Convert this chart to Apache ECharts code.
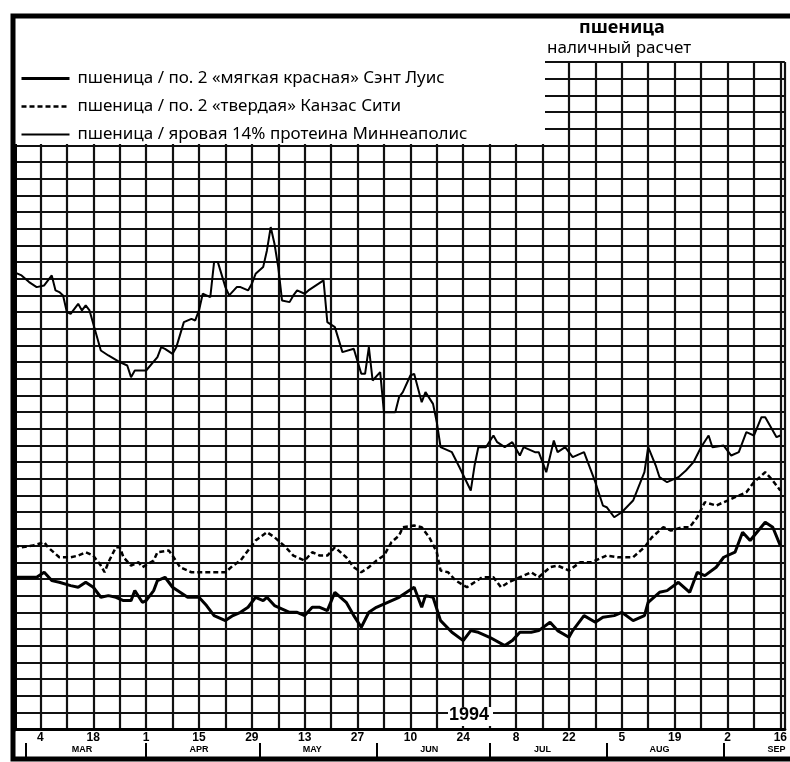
<!DOCTYPE html>
<html>
<head>
<meta charset="utf-8">
<script src="https://cdn.jsdelivr.net/npm/echarts@6/dist/echarts.min.js"></script>
<style>
html,body{margin:0;padding:0;background:#fff;}
#chart{width:790px;height:762px;}
</style>
</head>
<body>
<div id="chart"></div>
<script>
// ---- DATA (1994, cash wheat prices, $/bu; dates as month-day) ----
const seriesNames = [
  'пшеница / по. 2 «мягкая красная» Сэнт Луис',
  'пшеница / по. 2 «твердая» Канзас Сити',
  'пшеница / яровая 14% протеина Миннеаполис'
];

const stLouisData = [
  ['2-25',3.31],['2-28',3.31],['3-3',3.31],['3-5',3.34],['3-7',3.29],['3-9',3.28],['3-12',3.26],['3-14',3.25],
  ['3-16',3.28],['3-18',3.25],['3-20',3.19],['3-22',3.20],['3-24',3.19],['3-26',3.17],['3-28',3.17],['3-29',3.23],
  ['3-31',3.16],['4-1',3.17],['4-3',3.23],['4-4',3.29],['4-6',3.31],['4-8',3.25],['4-10',3.22],['4-12',3.19],
  ['4-15',3.19],['4-17',3.14],['4-19',3.08],['4-22',3.05],['4-24',3.08],['4-26',3.10],['4-28',3.13],['4-30',3.19],
  ['5-2',3.17],['5-3',3.19],['5-5',3.14],['5-9',3.10],['5-11',3.10],['5-13',3.08],['5-15',3.13],['5-17',3.13],
  ['5-19',3.11],['5-21',3.22],['5-24',3.16],['5-26',3.08],['5-28',3.01],['5-30',3.10],['6-1',3.13],['6-4',3.16],
  ['6-7',3.19],['6-9',3.22],['6-11',3.25],['6-13',3.13],['6-14',3.20],['6-16',3.19],['6-18',3.05],['6-21',2.98],
  ['6-24',2.93],['6-26',2.99],['6-28',2.98],['7-1',2.95],['7-5',2.90],['7-7',2.93],['7-9',2.98],['7-12',2.98],
  ['7-14',2.99],['7-17',3.04],['7-19',2.99],['7-22',2.95],['7-23',2.99],['7-26',3.08],['7-29',3.04],['7-31',3.07],
  ['8-3',3.08],['8-5',3.10],['8-8',3.05],['8-11',3.08],['8-12',3.16],['8-15',3.22],['8-17',3.23],['8-20',3.28],
  ['8-23',3.22],['8-25',3.34],['8-27',3.32],['8-30',3.37],['9-1',3.43],['9-4',3.46],['9-6',3.58],['9-8',3.53],
  ['9-12',3.64],['9-14',3.61],['9-16',3.50]
];

const kansasCityData = [
  ['2-25',3.50],['2-27',3.49],['3-2',3.50],['3-5',3.52],['3-6',3.49],['3-9',3.43],['3-12',3.43],['3-14',3.44],
  ['3-16',3.46],['3-18',3.44],['3-20',3.38],['3-21',3.34],['3-22',3.40],['3-24',3.49],['3-25',3.49],['3-26',3.43],
  ['3-28',3.38],['3-30',3.40],['3-31',3.37],['4-3',3.41],['4-4',3.46],['4-7',3.47],['4-8',3.44],['4-10',3.37],
  ['4-13',3.34],['4-16',3.34],['4-19',3.34],['4-22',3.34],['4-24',3.38],['4-26',3.41],['4-28',3.47],['4-30',3.53],
  ['5-3',3.58],['5-5',3.55],['5-8',3.49],['5-10',3.44],['5-13',3.41],['5-15',3.46],['5-17',3.44],['5-19',3.44],
  ['5-21',3.49],['5-24',3.43],['5-26',3.37],['5-28',3.34],['5-30',3.37],['6-1',3.41],['6-3',3.44],['6-5',3.52],
  ['6-7',3.56],['6-8',3.61],['6-11',3.62],['6-13',3.61],['6-15',3.55],['6-17',3.46],['6-18',3.35],['6-20',3.34],
  ['6-22',3.29],['6-25',3.25],['6-27',3.28],['6-29',3.31],['7-2',3.31],['7-4',3.25],['7-6',3.28],['7-9',3.31],
  ['7-12',3.34],['7-14',3.31],['7-17',3.37],['7-19',3.38],['7-22',3.35],['7-25',3.40],['7-28',3.40],['8-1',3.44],
  ['8-4',3.43],['8-8',3.43],['8-11',3.49],['8-13',3.55],['8-16',3.61],['8-18',3.59],['8-21',3.61],['8-23',3.61],
  ['8-25',3.67],['8-27',3.76],['8-30',3.74],['9-1',3.76],['9-4',3.79],['9-7',3.82],['9-9',3.88],['9-12',3.94],
  ['9-14',3.89],['9-16',3.83]
];

const minneapolisData = [
  ['2-25',5.14],['2-27',5.12],['3-1',5.08],['3-3',5.05],['3-5',5.06],['3-7',5.12],['3-8',5.03],['3-9',5.02],
  ['3-10',5.00],['3-11',4.90],['3-12',4.89],['3-14',4.95],['3-15',4.91],['3-16',4.94],['3-17',4.91],['3-18',4.83],
  ['3-20',4.67],['3-22',4.64],['3-25',4.60],['3-27',4.58],['3-28',4.51],['3-29',4.55],['4-1',4.55],['4-4',4.63],
  ['4-5',4.69],['4-6',4.68],['4-8',4.65],['4-9',4.69],['4-11',4.84],['4-13',4.86],['4-14',4.85],['4-15',4.91],
  ['4-16',5.01],['4-18',4.99],['4-19',5.20],['4-20',5.20],['4-22',5.05],['4-23',5.00],['4-25',5.05],['4-26',5.05],
  ['4-28',5.03],['4-29',5.07],['4-30',5.13],['5-2',5.17],['5-3',5.27],['5-4',5.41],['5-5',5.31],['5-6',5.17],
  ['5-7',4.97],['5-9',4.96],['5-10',5.00],['5-11',5.03],['5-13',5.01],['5-14',5.03],['5-18',5.09],['5-19',4.84],
  ['5-21',4.81],['5-23',4.66],['5-26',4.68],['5-28',4.53],['5-29',4.53],['5-30',4.69],['5-31',4.49],['6-2',4.54],
  ['6-3',4.30],['6-6',4.30],['6-7',4.39],['6-8',4.42],['6-10',4.52],['6-11',4.53],['6-13',4.36],['6-14',4.42],
  ['6-16',4.35],['6-17',4.24],['6-18',4.09],['6-21',4.06],['6-23',3.97],['6-26',3.83],['6-27',3.98],['6-28',4.09],
  ['6-30',4.09],['7-2',4.16],['7-3',4.12],['7-5',4.09],['7-7',4.12],['7-9',4.04],['7-10',4.09],['7-13',4.06],
  ['7-14',4.06],['7-16',3.94],['7-18',4.13],['7-19',4.06],['7-21',4.09],['7-23',4.03],['7-26',4.06],['7-29',3.88],
  ['7-31',3.74],['8-1',3.73],['8-3',3.67],['8-5',3.70],['8-8',3.77],['8-11',3.94],['8-12',4.09],['8-14',3.98],
  ['8-15',3.91],['8-17',3.88],['8-20',3.91],['8-22',3.95],['8-24',4.00],['8-26',4.09],['8-28',4.16],['8-29',4.09],
  ['9-1',4.10],['9-3',4.04],['9-5',4.06],['9-7',4.18],['9-9',4.16],['9-11',4.27],['9-12',4.27],['9-15',4.15],
  ['9-16',4.16]
];

// axis text
const dayTickDates = ['3-4','3-18','4-1','4-15','4-29','5-13','5-27','6-10','6-24','7-8','7-22','8-5','8-19','9-2','9-16'];
const monthNames = ['MAR','APR','MAY','JUN','JUL','AUG','SEP'];
const monthMidDates = ['3-15','4-15','5-15','6-15','7-15','8-15','9-15'];
const monthStartDates = ['2-28','4-1','5-1','6-1','7-1','8-1','9-1'];
const yearLabel = '1994';
const titleMain = 'пшеница';
const titleSub = 'наличный расчет';

// ---- helpers ----
const START = Date.UTC(1994, 1, 25);
function dayOf(s) {
  const p = s.split('-').map(Number);
  return Math.round((Date.UTC(1994, p[0] - 1, p[1]) - START) / 86400000);
}
function toXY(arr) { return arr.map(r => [dayOf(r[0]), r[1]]); }
const monthMidDays = monthMidDates.map(dayOf);

const chart = echarts.init(document.getElementById('chart'), null, {renderer: 'canvas'});
const FONT = 'Noto Sans';
const lineStyles = [
  {color: '#000', width: 3, type: 'solid'},
  {color: '#000', width: 2.5, type: [5, 3]},
  {color: '#000', width: 2, type: 'solid'}
];
const dataSets = [stLouisData, kansasCityData, minneapolisData];

const option = {
  animation: false,
  backgroundColor: '#fff',
  grid: {left: 14, right: 0, top: 62, bottom: 33, containLabel: false},
  xAxis: [
    {
      type: 'value', min: 0, max: 204.2, interval: 7,
      axisLine: {show: true, lineStyle: {color: '#000', width: 3}},
      axisTick: {show: false},
      splitLine: {show: true, lineStyle: {color: '#111', width: 2.2}},
      axisLabel: {
        show: true, customValues: dayTickDates.map(dayOf),
        formatter: v => String(new Date(START + v * 86400000).getUTCDate()),
        color: '#000', fontSize: 12, fontWeight: 'bold', fontFamily: 'Liberation Sans', margin: 3
      }
    },
    {
      type: 'value', min: 0, max: 204.2, position: 'bottom', offset: 14,
      axisLine: {show: false},
      splitLine: {show: false},
      axisTick: {show: true, customValues: monthStartDates.map(dayOf), length: 16, lineStyle: {color: '#000', width: 2}},
      axisLabel: {
        show: true, customValues: monthMidDays,
        formatter: v => monthNames[monthMidDays.indexOf(Math.round(v))] || '',
        color: '#000', fontSize: 9, fontWeight: 'bold', fontFamily: 'Liberation Sans', margin: 2
      }
    }
  ],
  yAxis: {
    type: 'value', min: 2.4, max: 6.4, interval: 0.1,
    axisLine: {show: true, lineStyle: {color: '#000', width: 5}},
    axisTick: {show: false},
    axisLabel: {show: false},
    splitLine: {show: true, lineStyle: {color: '#111', width: 2.2}}
  },
  legend: {
    orient: 'vertical', left: 15, top: 65, z: 20,
    itemWidth: 48, itemHeight: 14, itemGap: 11,
    itemStyle: {opacity: 0},
    textStyle: {color: '#000', fontSize: 17, fontFamily: FONT, lineHeight: 17, padding: [0, 0, 0, 3]},
    data: seriesNames.map((n, i) => ({name: n, lineStyle: lineStyles[i]}))
  },
  series: seriesNames.map((n, i) => ({
    name: n, type: 'line', symbol: 'none', data: toXY(dataSets[i]),
    lineStyle: lineStyles[i], itemStyle: {color: '#000'}, z: 5
  })),
  graphic: [
    {type: 'rect', z: 8, shape: {x: 15, y: 16, width: 530, height: 128}, style: {fill: '#fff'}},
    {type: 'rect', z: 8, shape: {x: 15, y: 16, width: 780, height: 45}, style: {fill: '#fff'}},
    {type: 'text', z: 20, left: 579, top: 19, style: {text: titleMain, fontSize: 18, fontWeight: 'bold', fontFamily: FONT, fill: '#000'}},
    {type: 'text', z: 20, left: 547, top: 40, style: {text: titleSub, fontSize: 17, fontFamily: FONT, fill: '#000'}},
    {type: 'rect', z: 8, shape: {x: 448, y: 707, width: 45, height: 19}, style: {fill: '#fff'}},
    {type: 'text', z: 20, left: 449, top: 706, style: {text: yearLabel, fontSize: 18, fontWeight: 'bold', fontFamily: 'Liberation Sans', fill: '#000'}},
    {type: 'rect', z: 30, shape: {x: 13, y: 16, width: 800, height: 743}, style: {fill: 'none', stroke: '#000', lineWidth: 5}}
  ]
};
chart.setOption(option);
</script>
</body>
</html>
